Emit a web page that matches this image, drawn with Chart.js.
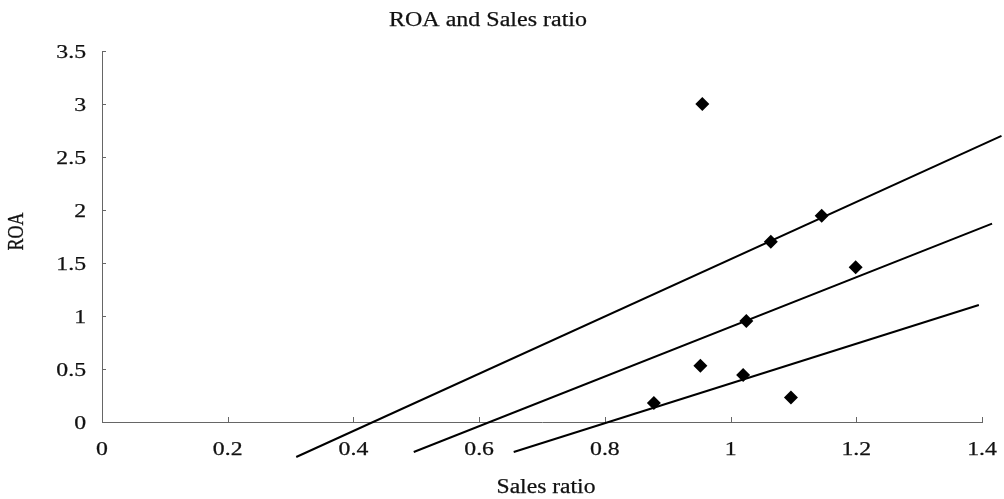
<!DOCTYPE html>
<html>
<head>
<meta charset="utf-8">
<script src="https://cdn.jsdelivr.net/npm/chart.js@4/dist/chart.umd.min.js"></script>
<style>
  html, body { margin: 0; padding: 0; background: #ffffff; }
  #wrap { width: 1004px; height: 499px; position: relative; }
</style>
</head>
<body>
<div id="wrap"><canvas id="chart" width="1004" height="499"></canvas></div>
<script>
// Firm observations: sales ratio vs. ROA
const salesRatio = [0.955, 1.145, 1.064, 1.199, 1.025, 0.952, 1.020, 0.878, 1.096];
const roa        = [3.00,  1.946, 1.70,  1.459, 0.953, 0.531, 0.443, 0.179, 0.232];

// Three fitted lines, each given by its two end points (x, y)
const upperLineX  = [0.309, 1.431];
const upperLineY  = [-0.33, 2.70];
const middleLineX = [0.496, 1.416];
const middleLineY = [-0.283, 1.871];
const lowerLineX  = [0.655, 1.395];
const lowerLineY  = [-0.283, 1.104];

// Axis tick labels
const xTickValues = [0, 0.2, 0.4, 0.6, 0.8, 1, 1.2, 1.4];
const xTickLabels = ['0', '0.2', '0.4', '0.6', '0.8', '1', '1.2', '1.4'];
const yTickValues = [0, 0.5, 1, 1.5, 2, 2.5, 3, 3.5];
const yTickLabels = ['0', '0.5', '1', '1.5', '2', '2.5', '3', '3.5'];

const chartTitle = 'ROA and Sales ratio';
const xTitle = 'Sales ratio';
const yTitle = 'ROA';

const zip = (xs, ys) => xs.map((x, i) => ({ x: x, y: ys[i] }));

const FONT_FAMILY = '"Liberation Serif", "Times New Roman", serif';
const TEXT_COLOR = '#111111';
const AXIS_COLOR = '#666666';

// Serif text, slightly widened and thickened
function wideText(ctx, text, x, y, opts) {
  ctx.save();
  ctx.translate(x, y);
  ctx.scale(opts.stretch || 1.2, 1);
  if (opts.rotate) ctx.rotate(opts.rotate);
  ctx.font = opts.font;
  ctx.fillStyle = TEXT_COLOR;
  ctx.strokeStyle = TEXT_COLOR;
  ctx.lineWidth = 0.25;
  ctx.textAlign = opts.align || 'center';
  ctx.textBaseline = opts.baseline || 'alphabetic';
  ctx.fillText(text, 0, 0);
  ctx.strokeText(text, 0, 0);
  ctx.restore();
}

// Draws inner tick marks, tick labels and titles from the chart's scales
const axisDecor = {
  id: 'axisDecor',
  beforeDatasetsDraw(chart) {
    const ctx = chart.ctx;
    const xs = chart.scales.x, ys = chart.scales.y;
    const area = chart.chartArea;
    ctx.save();
    ctx.strokeStyle = AXIS_COLOR;
    ctx.lineWidth = 1;
    xTickValues.forEach(v => {
      const px = Math.round(xs.getPixelForValue(v)) + 0.5;
      ctx.beginPath();
      ctx.moveTo(px, area.bottom);
      ctx.lineTo(px, area.bottom - 5);
      ctx.stroke();
    });
    yTickValues.forEach(v => {
      const py = Math.round(ys.getPixelForValue(v)) + 0.5;
      ctx.beginPath();
      ctx.moveTo(area.left, py);
      ctx.lineTo(area.left + 4, py);
      ctx.stroke();
    });
    ctx.restore();

    const tickFont = '19px ' + FONT_FAMILY;
    xTickValues.forEach((v, i) => {
      wideText(ctx, xTickLabels[i], xs.getPixelForValue(v), 455, { font: tickFont, stretch: 1.25 });
    });
    yTickValues.forEach((v, i) => {
      wideText(ctx, yTickLabels[i], 86, ys.getPixelForValue(v) + 6.5, { font: tickFont, stretch: 1.25, align: 'right' });
    });

    wideText(ctx, chartTitle, 488, 26, { font: '20px ' + FONT_FAMILY, stretch: 1.2 });
    wideText(ctx, xTitle, 546, 493, { font: '20px ' + FONT_FAMILY, stretch: 1.18 });
    wideText(ctx, yTitle, 17, 231.5, { font: '18px ' + FONT_FAMILY, stretch: 1.25, rotate: -Math.PI / 2, baseline: 'middle' });
  }
};

const lineStyle = {
  type: 'line',
  showLine: true,
  borderColor: '#000000',
  borderWidth: 2,
  pointRadius: 0,
  fill: false,
  clip: false,
  tension: 0
};

new Chart(document.getElementById('chart'), {
  type: 'scatter',
  data: {
    datasets: [
      {
        label: 'Firms',
        data: zip(salesRatio, roa),
        pointStyle: 'rectRot',
        pointRadius: 7,
        backgroundColor: '#000000',
        borderColor: '#000000',
        borderWidth: 0,
        clip: false
      },
      Object.assign({ label: 'Upper line', data: zip(upperLineX, upperLineY) }, lineStyle),
      Object.assign({ label: 'Middle line', data: zip(middleLineX, middleLineY) }, lineStyle),
      Object.assign({ label: 'Lower line', data: zip(lowerLineX, lowerLineY) }, lineStyle)
    ]
  },
  options: {
    responsive: false,
    animation: false,
    events: [],
    layout: { padding: { left: 102, right: 22, top: 51, bottom: 77 } },
    plugins: {
      legend: { display: false },
      tooltip: { enabled: false },
      title: { display: false }
    },
    scales: {
      x: {
        type: 'linear',
        min: 0,
        max: 1.4,
        grid: { display: false, drawTicks: false },
        border: { display: true, color: AXIS_COLOR, width: 1 },
        ticks: { display: false, stepSize: 0.2 }
      },
      y: {
        type: 'linear',
        min: 0,
        max: 3.5,
        grid: { display: false, drawTicks: false },
        border: { display: true, color: AXIS_COLOR, width: 1 },
        ticks: { display: false, stepSize: 0.5 }
      }
    }
  },
  plugins: [axisDecor]
});
</script>
</body>
</html>
